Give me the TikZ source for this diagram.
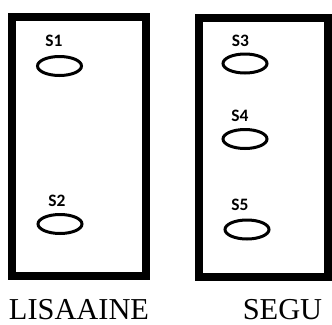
\documentclass[tikz,border=0pt]{standalone}
\usepackage{fontspec}
\setmainfont{Liberation Serif}
\newfontfamily\tagfont{Carlito}
\usepackage{tikz}
\usetikzlibrary{shapes.geometric,positioning}

\tikzset{
    site/.style={draw,ellipse,line width=3bp,minimum width=44bp,minimum height=19bp,inner sep=0pt},
    tag/.style={inner sep=0pt,font=\tagfont\bfseries\fontsize{17.5}{17.5}\selectfont},
    zone/.style={line width=8bp},
    caption/.style={anchor=base,inner sep=0pt,text depth=0pt,font=\fontsize{30.5}{30.5}\selectfont}
}

\begin{document}
\begin{tikzpicture}[x=1bp,y=-1bp]
    \useasboundingbox (0,0) rectangle (332,325);

    % Left zone - two sites
    \draw[zone] (12,17) rectangle (146,276);
    \node[site] (s1) at (59.5,66) {};
    \node[tag] (t1) at (54,41) {S1};
    \node[site] (s2) at (60,224) {};
    \node[tag] (t2) at (57,200.5) {S2};
    \node[caption] (lisaaine) at (79,319) {LISAAINE};

    % Right zone - three sites
    \draw[zone] (199,18) rectangle (328,277);
    \node[site] (s3) at (245,63.5) {};
    \node[tag] (t3) at (240.5,40.5) {S3};
    \node[site] (s4) at (245,139) {};
    \node[tag] (t4) at (240,116) {S4};
    \node[site] (s5) at (247,229.5) {};
    \node[tag] (t5) at (240,205) {S5};
    \node[caption] (segu) at (282.5,319) {SEGU};
\end{tikzpicture}
\end{document}
